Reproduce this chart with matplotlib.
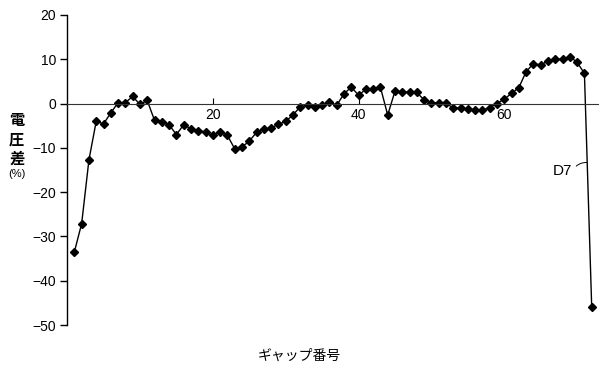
import numpy as np
import matplotlib
matplotlib.use("Agg")
import matplotlib.pyplot as plt

plt.rcParams['font.family'] = ['Liberation Sans', 'Noto Sans CJK JP', 'DejaVu Sans']

# voltage difference per gap (%)
gap_no = np.arange(1, 73)
volt_diff = [
    -33.5, -27.1, -12.7, -4.0, -4.6, -2.1, 0.2, 0.2, 1.6, -0.2,
    0.7, -3.8, -4.2, -4.8, -7.0, -4.8, -5.7, -6.1, -6.4, -7.2,
    -6.4, -7.2, -10.2, -9.8, -8.5, -6.5, -5.8, -5.5, -4.7, -4.0,
    -2.6, -0.7, -0.4, -0.7, -0.4, 0.4, -0.4, 2.2, 3.7, 1.9,
    3.2, 3.2, 3.7, -2.6, 2.8, 2.6, 2.6, 2.5, 0.8, 0.1,
    0.2, 0.2, -1.1, -0.9, -1.3, -1.5, -1.5, -0.9, 0.0, 1.0,
    2.3, 3.6, 7.2, 9.0, 8.7, 9.6, 10.0, 10.0, 10.6, 9.3,
    6.8, -46.0,
]
x_ticks = [20, 40, 60]
y_ticks = [-50, -40, -30, -20, -10, 0, 10, 20]

fig = plt.figure(figsize=(5.99, 3.74), dpi=100, facecolor="white")
ax = fig.add_axes([0.112, 0.131, 0.888, 0.829])

ax.plot(gap_no, volt_diff, color="black", lw=1.0, marker="D", ms=3.6,
        mfc="black", mec="black", clip_on=False)

ax.set_xlim(0, 73)
ax.set_ylim(-50, 20)
ax.spines["top"].set_visible(False)
ax.spines["right"].set_visible(False)
ax.spines["bottom"].set_position(("data", 0))
ax.spines["bottom"].set_color("#333333")
ax.spines["left"].set_linewidth(1.0)

ax.set_xticks(x_ticks)
ax.set_yticks(y_ticks)
ax.tick_params(axis="x", direction="in", length=4, width=0.8, labelsize=10, pad=3)
ax.tick_params(axis="y", direction="out", length=5, width=1.0, labelsize=10, pad=3)

# y title written top to bottom, one glyph per line
for ch, yy in zip("電圧差", [0.676, 0.624, 0.573]):
    fig.text(0.028, yy, ch, ha="center", va="center", fontsize=11,
             fontweight="bold")
fig.text(0.028, 0.535, "(%)", ha="center", va="center", fontsize=8)
fig.text(0.50, 0.05, "ギャップ番号", ha="center", va="center", fontsize=10)

# label for the last gap
ax.annotate("D7", xy=(71.38, -13.3), xytext=(66.7, -15.2),
            ha="left", va="center", fontsize=11,
            arrowprops=dict(arrowstyle="-", lw=0.7, color="black",
                            connectionstyle="arc3,rad=-0.3",
                            relpos=(1.0, 0.5), shrinkA=1, shrinkB=0))

fig.savefig("out.png", dpi=100)
